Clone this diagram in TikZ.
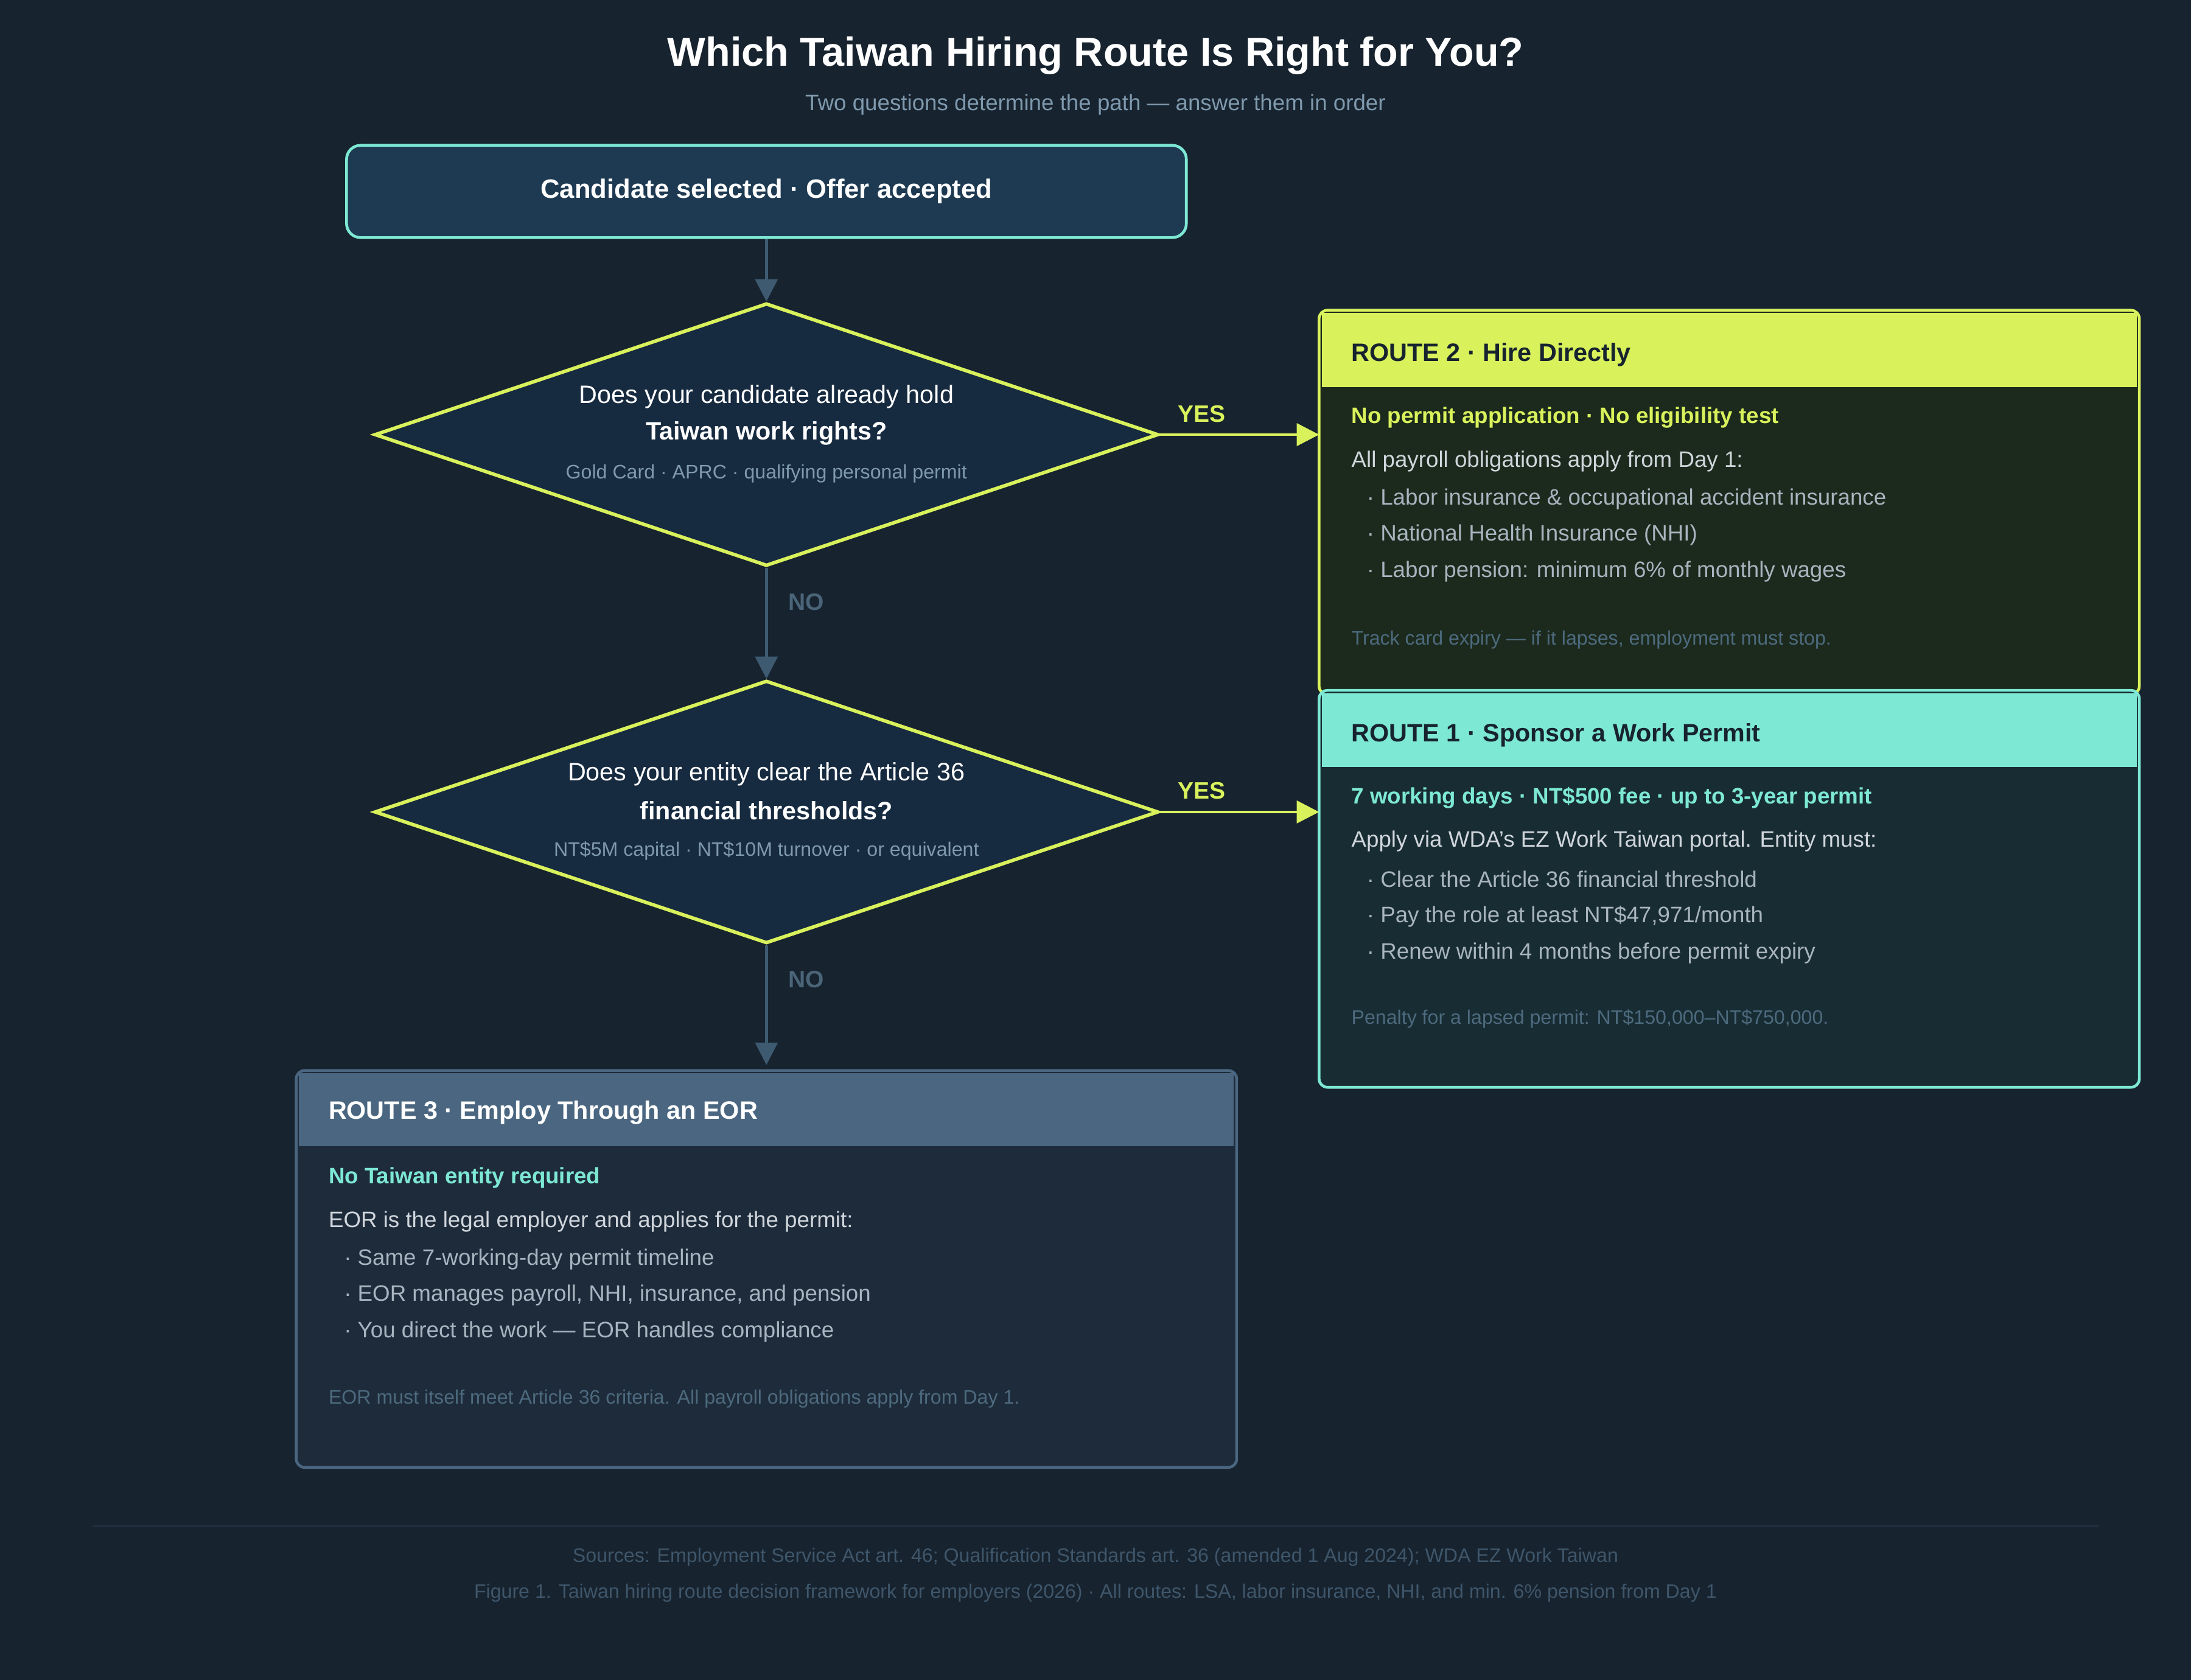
\documentclass[tikz,border=0pt]{standalone}
\usepackage{fontspec}
\setmainfont{Liberation Sans}
\usetikzlibrary{shapes.geometric,arrows.meta}
\definecolor{bg}{HTML}{17232F}
\definecolor{teal}{HTML}{7DE8D4}
\definecolor{lime}{HTML}{D9F25C}
\definecolor{topfill}{HTML}{1E3A52}
\definecolor{dfill}{HTML}{162A40}
\definecolor{arr}{HTML}{3D5A70}
\definecolor{nolab}{HTML}{4A6478}
\definecolor{sub}{HTML}{7F99AD}
\definecolor{rtwob}{HTML}{1B2A1C}
\definecolor{ronb}{HTML}{182C33}
\definecolor{rthh}{HTML}{4A6680}
\definecolor{rthb}{HTML}{1E2B3A}
\definecolor{main}{HTML}{D0D6DC}
\definecolor{bul}{HTML}{A8B4BF}
\definecolor{foot}{HTML}{4D6A7E}
\definecolor{src}{HTML}{3F566A}
\definecolor{sep}{HTML}{233242}
\definecolor{dark}{HTML}{17232F}
\newcommand{\fs}[1]{\fontsize{#1}{#1}\selectfont}
\tikzset{
 txt/.style={inner sep=0pt, anchor=west},
 conn/.style={draw=arr, line width=2pt, -{Triangle[length=16pt,width=16pt]}},
 yesconn/.style={draw=lime, line width=2pt, -{Triangle[length=16pt,width=16pt]}},
 dia/.style={diamond, draw=lime, fill=dfill, line width=2.5pt, minimum width=561pt, minimum height=188pt, inner sep=0pt},
 yes/.style={text=lime, font=\fs{17}\bfseries, inner sep=0pt},
 no/.style={text=nolab, font=\fs{17}\bfseries, inner sep=0pt},
}
\begin{document}
\begin{tikzpicture}[x=1pt,y=-1pt]
\fill[bg] (0,0) rectangle (1568,1202);
\useasboundingbox (0,0) rectangle (1568,1202);
\node[inner sep=0pt, text=white, font=\fs{29}\bfseries] (title) at (784,40) {Which Taiwan Hiring Route Is Right for You?};
\node[inner sep=0pt, text=sub, font=\fs{16}] (subt) at (784,75) {Two questions determine the path — answer them in order};
% start
\node[draw=teal, fill=topfill, line width=2pt, rounded corners=10pt, minimum width=601pt, minimum height=66pt, text=white, font=\fs{19}\bfseries] (start) at (548.5,137) {Candidate selected · Offer accepted};
% diamonds
\node[dia] (d1) at (548.5,311) {};
\node[inner sep=0pt,text=white,font=\fs{18}] (d1a) at (548.5,284) {Does your candidate already hold};
\node[inner sep=0pt,text=white,font=\fs{18}\bfseries] (d1b) at (548.5,310) {Taiwan work rights?};
\node[inner sep=0pt,text=sub,font=\fs{14}] (d1c) at (548.5,339) {Gold Card · APRC · qualifying personal permit};
\node[dia] (d2) at (548.5,581) {};
\node[inner sep=0pt,text=white,font=\fs{18}] (d2a) at (548.5,554) {Does your entity clear the Article 36};
\node[inner sep=0pt,text=white,font=\fs{18}\bfseries] (d2b) at (548.5,580) {financial thresholds?};
\node[inner sep=0pt,text=sub,font=\fs{14}] (d2c) at (548.5,609) {NT\$5M capital · NT\$10M turnover · or equivalent};
% Route 2
\fill[rtwob, rounded corners=6pt] (944,222) rectangle (1531,497);
\fill[lime] (946,224) rectangle (1529,277);
\draw[lime, line width=2pt, rounded corners=6pt] (944,222) rectangle (1531,497);
\coordinate (r2in) at (944,311);
\node[txt,text=dark,font=\fs{18}\bfseries] (r2t) at (967,254) {ROUTE 2 · Hire Directly};
\node[txt,text=lime,font=\fs{16}\bfseries] (r2s) at (967,299) {No permit application · No eligibility test};
\node[txt,text=main,font=\fs{16}] (r2m) at (967,330) {All payroll obligations apply from Day 1:};
\node[txt,text=bul,font=\fs{16}] (r2b1) at (978,357) {· Labor insurance \& occupational accident insurance};
\node[txt,text=bul,font=\fs{16}] (r2b2) at (978,383) {· National Health Insurance (NHI)};
\node[txt,text=bul,font=\fs{16}] (r2b3) at (978,409) {· Labor pension: minimum 6\% of monthly wages};
\node[txt,text=foot,font=\fs{14}] (r2f) at (967,458) {Track card expiry — if it lapses, employment must stop.};
% Route 1
\fill[ronb, rounded corners=6pt] (944,494) rectangle (1531,778);
\fill[teal] (946,496) rectangle (1529,549);
\draw[teal, line width=2pt, rounded corners=6pt] (944,494) rectangle (1531,778);
\coordinate (r1in) at (944,581);
\node[txt,text=dark,font=\fs{18}\bfseries] (r1t) at (967,526) {ROUTE 1 · Sponsor a Work Permit};
\node[txt,text=teal,font=\fs{16}\bfseries] (r1s) at (967,571) {7 working days · NT\$500 fee · up to 3-year permit};
\node[txt,text=main,font=\fs{16}] (r1m) at (967,602) {Apply via WDA's EZ Work Taiwan portal. Entity must:};
\node[txt,text=bul,font=\fs{16}] (r1b1) at (978,629) {· Clear the Article 36 financial threshold};
\node[txt,text=bul,font=\fs{16}] (r1b2) at (978,656) {· Pay the role at least NT\$47,971/month};
\node[txt,text=bul,font=\fs{16}] (r1b3) at (978,682) {· Renew within 4 months before permit expiry};
\node[txt,text=foot,font=\fs{14}] (r1f) at (967,729) {Penalty for a lapsed permit: NT\$150,000–NT\$750,000.};
% Route 3
\fill[rthb, rounded corners=6pt] (212,766) rectangle (885,1050);
\fill[rthh] (214,768) rectangle (883,820);
\draw[rthh, line width=2pt, rounded corners=6pt] (212,766) rectangle (885,1050);
\coordinate (r3in) at (548.5,762);
\node[txt,text=white,font=\fs{18}\bfseries] (r3t) at (235,796) {ROUTE 3 · Employ Through an EOR};
\node[txt,text=teal,font=\fs{16}\bfseries] (r3s) at (235,843) {No Taiwan entity required};
\node[txt,text=main,font=\fs{16}] (r3m) at (235,874) {EOR is the legal employer and applies for the permit:};
\node[txt,text=bul,font=\fs{16}] (r3b1) at (246,901) {· Same 7-working-day permit timeline};
\node[txt,text=bul,font=\fs{16}] (r3b2) at (246,927) {· EOR manages payroll, NHI, insurance, and pension};
\node[txt,text=bul,font=\fs{16}] (r3b3) at (246,953) {· You direct the work — EOR handles compliance};
\node[txt,text=foot,font=\fs{14}] (r3f) at (235,1001) {EOR must itself meet Article 36 criteria. All payroll obligations apply from Day 1.};
% connectors
\draw[conn] (start.south) -- (d1.north);
\draw[yesconn] (d1.east) -- (r2in);
\draw[conn] (d1.south) -- (d2.north);
\draw[yesconn] (d2.east) -- (r1in);
\draw[conn] (d2.south) -- (r3in);
\node[yes] (y1) at (860,296) {YES};
\node[yes] (y2) at (860,566) {YES};
\node[no] (n1) at (577,431) {NO};
\node[no] (n2) at (577,701) {NO};
% footer
\draw[sep, line width=1pt] (66,1092) -- (1502,1092);
\node[inner sep=0pt,text=src,font=\fs{14}] (s1) at (784,1114) {Sources: Employment Service Act art. 46; Qualification Standards art. 36 (amended 1 Aug 2024); WDA EZ Work Taiwan};
\node[inner sep=0pt,text=src,font=\fs{14}] (s2) at (784,1140) {Figure 1. Taiwan hiring route decision framework for employers (2026) · All routes: LSA, labor insurance, NHI, and min. 6\% pension from Day 1};
\end{tikzpicture}
\end{document}
